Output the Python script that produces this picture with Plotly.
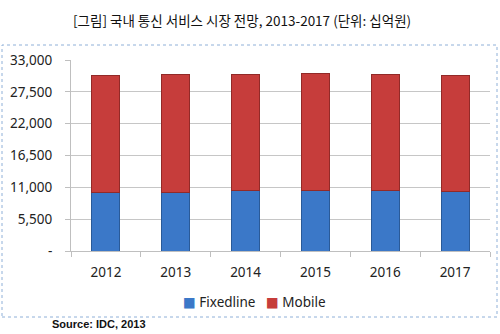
import plotly.graph_objects as go

years = ["2012", "2013", "2014", "2015", "2016", "2017"]
fixedline = [10190, 10190, 10370, 10480, 10480, 10250]
mobile = [20100, 20270, 20160, 20150, 19980, 20100]
tick_vals = [0, 5500, 11000, 16500, 22000, 27500, 33000]
tick_text = ["-", "5,500", "11,000", "16,500", "22,000", "27,500", "33,000"]

blue = "#3b78c8"
red = "#c63d3b"

fig = go.Figure()
fig.add_trace(go.Bar(x=years, y=fixedline, name="Fixedline",
                     marker=dict(color=blue, line=dict(color="#2a5a98", width=1))))
fig.add_trace(go.Bar(x=years, y=mobile, name="Mobile",
                     marker=dict(color=red, line=dict(color="#922a28", width=1))))

fig.update_layout(
    barmode="stack", bargap=0.6,
    width=500, height=334,
    margin=dict(l=71, r=10, t=60, b=83),
    paper_bgcolor="white", plot_bgcolor="white",
    font=dict(family="Noto Sans, DejaVu Sans", size=13, color="#222"),
    showlegend=False,
    xaxis=dict(type="category", showline=True, linecolor="#bfbfbf", ticks="outside",
               tickson="boundaries", ticklen=5, tickcolor="#bfbfbf",
               tickfont=dict(size=13.5), showgrid=False, ticklabelstandoff=9),
    yaxis=dict(range=[0, 33000], tickvals=tick_vals, ticktext=tick_text,
               showgrid=True, gridcolor="#c6c6c6", showline=True, linecolor="#bfbfbf",
               ticks="outside", ticklen=5, tickcolor="#bfbfbf", zeroline=False,
               tickfont=dict(size=13.5), ticklabelstandoff=10),
    shapes=[dict(type="rect", xref="paper", yref="paper",
                 x0=-69/419, x1=426/419, y0=-66/191, y1=206/191,
                 line=dict(color="#8fb0d8", width=1, dash="dot"))],
    annotations=[
        dict(text="[그림] 국내 통신 서비스 시장 전망, 2013-2017 (단위: 십억원)",
             xref="paper", yref="paper", x=(242-71)/419, y=(251-20)/191,
             showarrow=False, xanchor="center", yanchor="middle",
             font=dict(family="Noto Sans CJK KR", size=13.5, color="#111")),
        dict(text=f"<span style='color:{blue}'>■</span> Fixedline   "
                  f"<span style='color:{red}'>■</span> Mobile",
             xref="paper", yref="paper", x=(254-71)/419, y=(251-302)/191,
             showarrow=False, xanchor="center", yanchor="middle",
             font=dict(family="Noto Sans, DejaVu Sans", size=13.5, color="#222")),
        dict(text="<b>Source: IDC, 2013</b>", xref="paper", yref="paper",
             x=(50-71)/419, y=(251-324)/191, showarrow=False,
             xanchor="left", yanchor="middle",
             font=dict(family="Liberation Sans, Arial", size=11, color="#111")),
    ],
)

fig.write_html("out.html")
